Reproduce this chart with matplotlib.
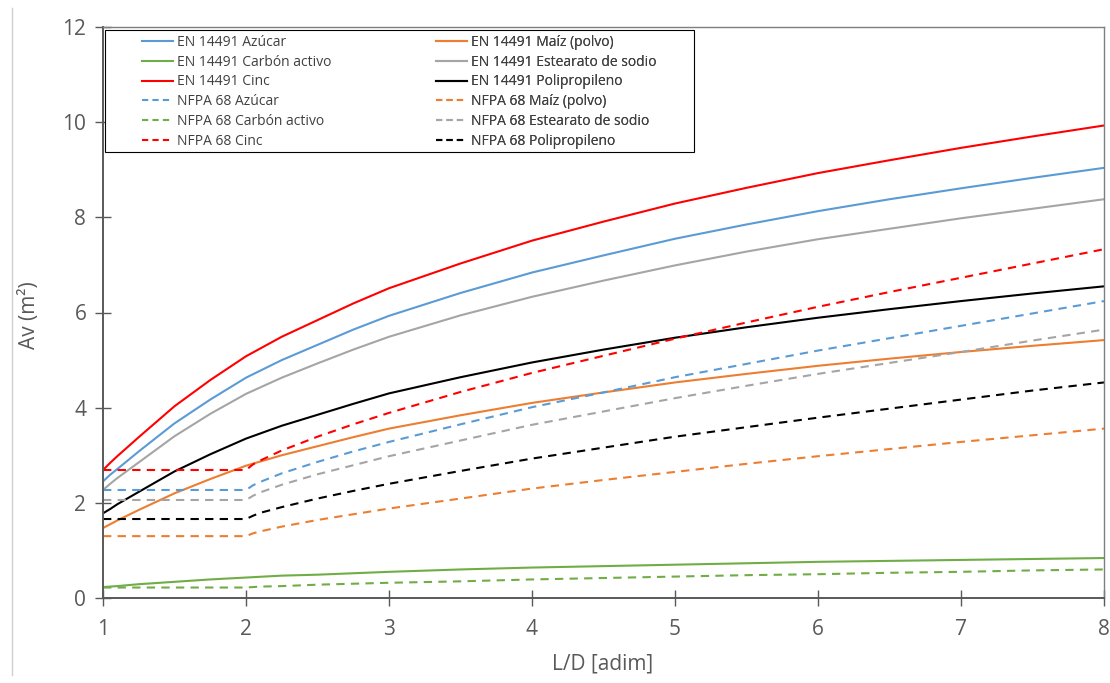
import matplotlib
matplotlib.use("Agg")
import matplotlib.pyplot as plt
from matplotlib.patches import Rectangle
from matplotlib.lines import Line2D

plt.rcParams["font.family"] = ["Open Sans", "DejaVu Sans"]

# ── data ──────────────────────────────────────────────────────────
ld_en = [1, 1.05, 1.1, 1.25, 1.5, 1.75, 2, 2.25, 2.5, 2.75, 3, 3.5, 4,
         4.5, 5, 5.5, 6, 6.5, 7, 7.5, 8]
en_azucar = [2.45, 2.59, 2.71, 3.08, 3.67, 4.17, 4.63, 5.00, 5.32, 5.64, 5.93,
             6.41, 6.84, 7.20, 7.55, 7.85, 8.13, 8.38, 8.61, 8.83, 9.04]
en_maiz = [1.47, 1.55, 1.63, 1.85, 2.20, 2.50, 2.78, 3.00, 3.19, 3.38, 3.56,
           3.84, 4.10, 4.32, 4.53, 4.71, 4.88, 5.03, 5.17, 5.30, 5.42]
en_carbon = [0.23, 0.24, 0.25, 0.29, 0.34, 0.39, 0.43, 0.47, 0.49, 0.52, 0.55,
             0.60, 0.64, 0.67, 0.70, 0.73, 0.76, 0.78, 0.80, 0.82, 0.84]
en_estearato = [2.27, 2.40, 2.52, 2.85, 3.40, 3.87, 4.29, 4.63, 4.93, 5.22, 5.49,
                5.94, 6.33, 6.67, 6.99, 7.28, 7.54, 7.76, 7.98, 8.18, 8.38]
en_cinc = [2.69, 2.84, 2.98, 3.38, 4.03, 4.58, 5.08, 5.49, 5.84, 6.19, 6.51,
           7.03, 7.51, 7.91, 8.29, 8.62, 8.93, 9.20, 9.46, 9.70, 9.93]
en_polipropileno = [1.78, 1.87, 1.97, 2.23, 2.66, 3.02, 3.35, 3.62, 3.85, 4.08, 4.30,
                    4.64, 4.95, 5.22, 5.47, 5.69, 5.89, 6.07, 6.24, 6.40, 6.55]

ld_nfpa = [1, 2, 2.05, 2.1, 2.25, 2.5, 2.75, 3, 3.5, 4, 4.5, 5, 5.5, 6,
           6.5, 7, 7.5, 8]
nfpa_azucar = [2.27, 2.27, 2.37, 2.44, 2.62, 2.86, 3.08, 3.28, 3.65, 4.01,
               4.32, 4.64, 4.92, 5.20, 5.46, 5.72, 5.98, 6.24]
nfpa_maiz = [1.30, 1.30, 1.36, 1.40, 1.50, 1.64, 1.76, 1.88, 2.09, 2.30,
             2.48, 2.65, 2.82, 2.98, 3.13, 3.28, 3.42, 3.56]
nfpa_carbon = [0.22, 0.22, 0.23, 0.24, 0.25, 0.28, 0.30, 0.32, 0.35, 0.39,
               0.42, 0.45, 0.48, 0.50, 0.53, 0.55, 0.58, 0.60]
nfpa_estearato = [2.06, 2.06, 2.15, 2.22, 2.38, 2.60, 2.79, 2.98, 3.31, 3.64,
                  3.92, 4.20, 4.46, 4.71, 4.94, 5.17, 5.41, 5.64]
nfpa_cinc = [2.69, 2.69, 2.81, 2.89, 3.10, 3.39, 3.65, 3.89, 4.33, 4.73,
             5.09, 5.45, 5.79, 6.12, 6.43, 6.73, 7.03, 7.33]
nfpa_polipropileno = [1.66, 1.66, 1.73, 1.79, 1.91, 2.09, 2.25, 2.40, 2.67, 2.93,
                      3.16, 3.39, 3.59, 3.79, 3.98, 4.17, 4.36, 4.53]

x_ticks = [1, 2, 3, 4, 5, 6, 7, 8]
y_ticks = [0, 2, 4, 6, 8, 10, 12]

BLUE, ORANGE, GREEN = "#5B9BD5", "#ED7D31", "#70AD47"
GREY, RED, BLACK = "#A5A5A5", "#FF0000", "#000000"
TXT = "#595959"

series = [
    ("EN 14491 Azúcar", ld_en, en_azucar, BLUE, "-"),
    ("EN 14491 Maíz (polvo)", ld_en, en_maiz, ORANGE, "-"),
    ("EN 14491 Carbón activo", ld_en, en_carbon, GREEN, "-"),
    ("EN 14491 Estearato de sodio", ld_en, en_estearato, GREY, "-"),
    ("EN 14491 Cinc", ld_en, en_cinc, RED, "-"),
    ("EN 14491 Polipropileno", ld_en, en_polipropileno, BLACK, "-"),
    ("NFPA 68 Azúcar", ld_nfpa, nfpa_azucar, BLUE, "--"),
    ("NFPA 68 Maíz (polvo)", ld_nfpa, nfpa_maiz, ORANGE, "--"),
    ("NFPA 68 Carbón activo", ld_nfpa, nfpa_carbon, GREEN, "--"),
    ("NFPA 68 Estearato de sodio", ld_nfpa, nfpa_estearato, GREY, "--"),
    ("NFPA 68 Cinc", ld_nfpa, nfpa_cinc, RED, "--"),
    ("NFPA 68 Polipropileno", ld_nfpa, nfpa_polipropileno, BLACK, "--"),
]

W, H = 1110, 683
fig = plt.figure(figsize=(W / 100, H / 100), dpi=100)
fig.patch.set_facecolor("white")
ax = fig.add_axes([103 / W, 85 / H, 1001 / W, 571 / H])

handles = {}
for lbl, xs, ys, col, ls in series:
    ln, = ax.plot(xs, ys, color=col, lw=1.5, linestyle=ls,
                  dashes=(4, 3) if ls == "--" else (None, None),
                  solid_joinstyle="round")
    handles[lbl] = ln

ax.set_xlim(1, 8)
ax.set_ylim(0, 12)
ax.set_xticks(x_ticks)
ax.set_yticks(y_ticks)
ax.tick_params(direction="inout", length=12, width=1.0, color=TXT,
               labelcolor=TXT, labelsize=15)
ax.tick_params(axis="y", pad=6)
ax.tick_params(axis="x", pad=9)
for s in ax.spines.values():
    s.set_color("#7F7F7F")
    s.set_linewidth(1.0)
for s in ("left", "bottom"):
    ax.spines[s].set_color(TXT)
    ax.spines[s].set_linewidth(1.4)

fig.text(30 / W, 1 - 315 / H, "Av (m²)", rotation=90, ha="center",
         va="center", fontsize=15, color=TXT)
fig.text(603 / W, 1 - 664 / H, "L/D [adim]", ha="center", va="center",
         fontsize=15, color=TXT)

# legend frame + two column legends
ax.add_patch(Rectangle((0.002, 0.781), 0.588, 0.2137, transform=ax.transAxes,
                       facecolor="white", edgecolor="black", lw=0.8, zorder=5))
col1 = [series[i][0] for i in (0, 2, 4, 6, 8, 10)]
col2 = [series[i][0] for i in (1, 3, 5, 7, 9, 11)]
for labels, x0 in ((col1, 142), (col2, 436)):
    hs = []
    for l in labels:
        h = handles[l]
        hs.append(Line2D([], [], color=h.get_color(), lw=1.5,
                         linestyle=h.get_linestyle(),
                         dashes=(3, 2) if "NFPA" in l else (None, None)))
    leg = ax.legend(hs, labels, loc="upper left",
                    bbox_to_anchor=(x0 / W, 1 - 35 / H),
                    bbox_transform=fig.transFigure, frameon=False,
                    fontsize=10, handlelength=2.2, handletextpad=0.3,
                    borderpad=0, borderaxespad=0, labelspacing=0.34,
                    labelcolor="#404040")
    leg.set_zorder(6)
    ax.add_artist(leg)

# thin grey rule at the left edge of the picture
fig.add_artist(Line2D([12 / W, 12 / W], [8 / H, 1 - 8 / H],
                      transform=fig.transFigure, color="#D0D0D0", lw=1.0))

fig.savefig("out.png", dpi=100, facecolor="white")
